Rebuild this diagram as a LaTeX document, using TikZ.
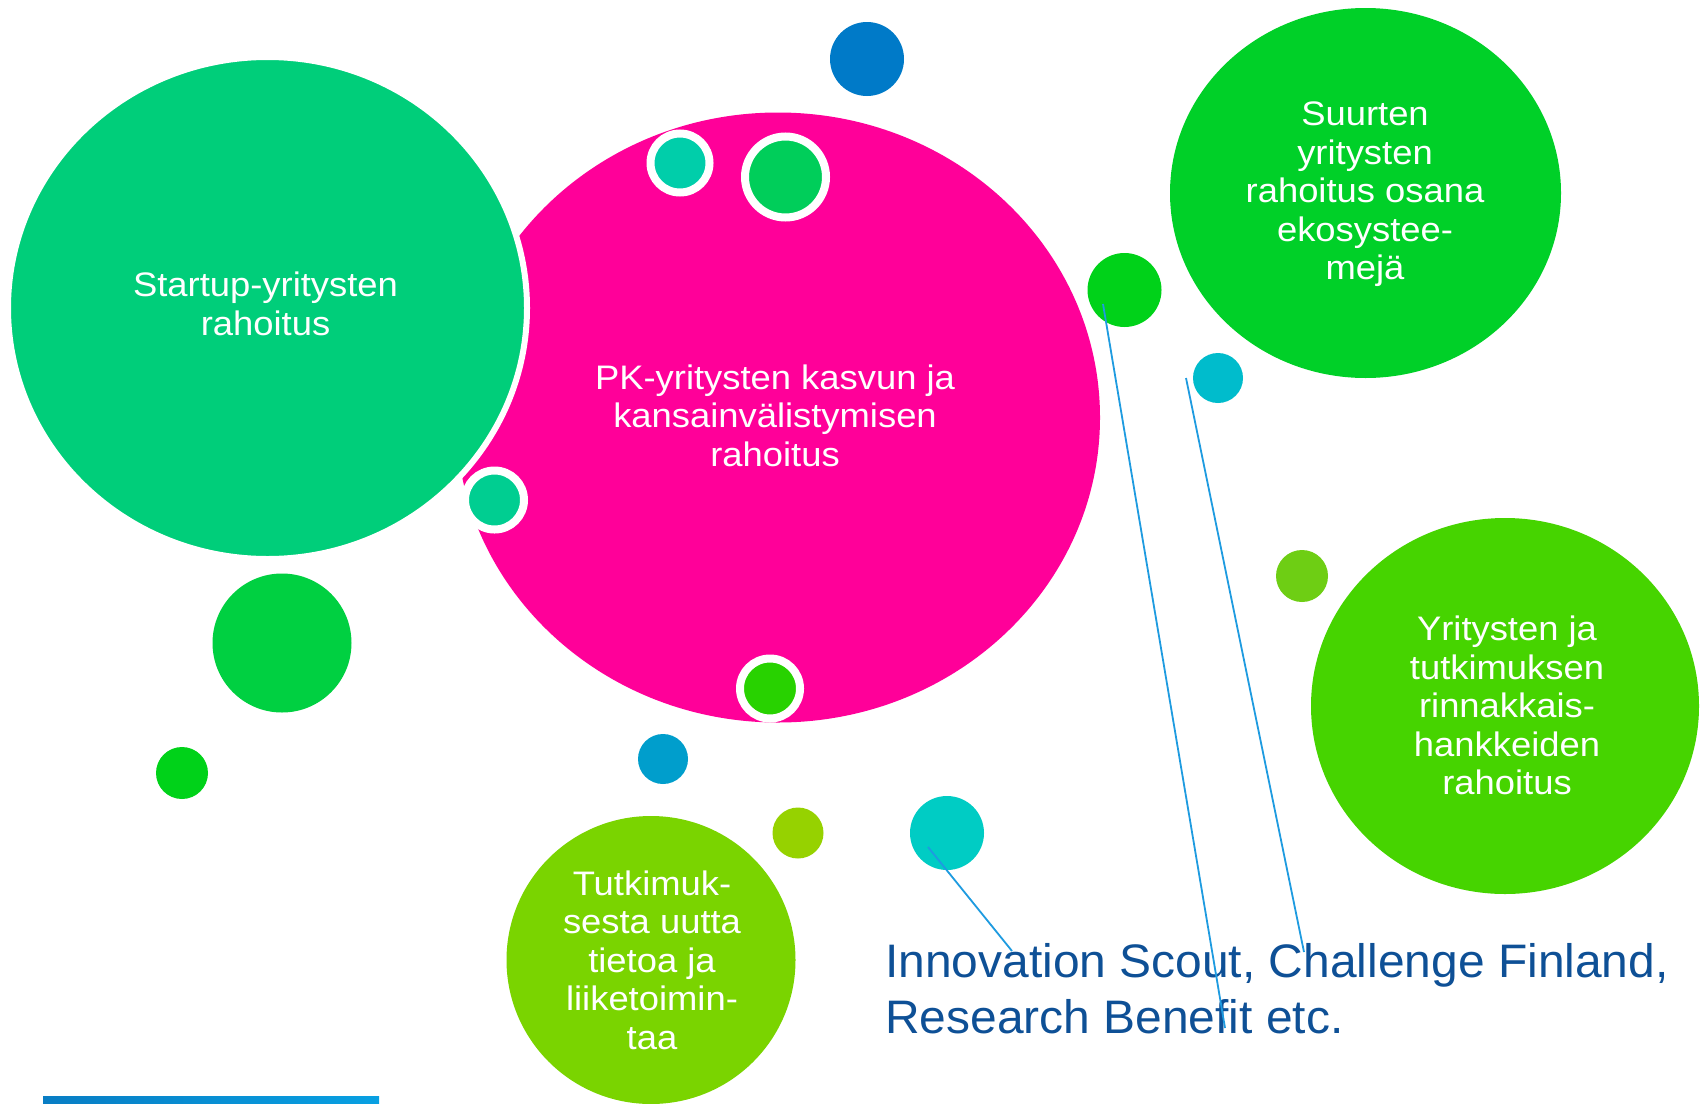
\documentclass[tikz,border=0pt]{standalone}
\usepackage{fontspec}
\setmainfont{Liberation Sans}
\newfontfamily\wfont{Liberation Sans}[FakeStretch=1.07]
\newfontfamily\bfont{Liberation Sans}[FakeStretch=1.02]
\usetikzlibrary{shapes.geometric}
\definecolor{pinkc}{RGB}{255,0,153}
\definecolor{startc}{RGB}{0,206,122}
\definecolor{suurc}{RGB}{0,208,40}
\definecolor{yritc}{RGB}{70,212,0}
\definecolor{tutkc}{RGB}{122,212,0}
\definecolor{llgreen}{RGB}{0,208,65}
\definecolor{sgreen}{RGB}{0,210,25}
\definecolor{bluedot}{RGB}{0,122,200}
\definecolor{bluesmall}{RGB}{0,158,204}
\definecolor{ygreen}{RGB}{150,210,0}
\definecolor{tealb}{RGB}{0,204,196}
\definecolor{cyanc}{RGB}{0,188,204}
\definecolor{ygreen2}{RGB}{110,206,20}
\definecolor{tealring}{RGB}{0,206,170}
\definecolor{greenring}{RGB}{0,206,90}
\definecolor{tealring2}{RGB}{0,206,145}
\definecolor{greenring2}{RGB}{40,210,0}
\definecolor{linec}{RGB}{30,155,224}
\definecolor{bluetext}{RGB}{14,80,150}
\definecolor{barl}{RGB}{8,125,196}
\definecolor{barr}{RGB}{8,160,226}
\begin{document}
\begin{tikzpicture}[x=1pt,y=-1pt,
  bubble/.style={circle, inner sep=0pt, draw=none, minimum size=#1},
  ringbubble/.style={circle, inner sep=0pt, draw=white, line width=8pt, minimum size=#1},
  bigbubble/.style={ellipse, inner sep=0pt, draw=none},
  lbl/.style={text=white, font=\wfont\fontsize{34}{38.5}\selectfont, align=center, inner sep=0pt},
  pointer/.style={draw=linec, line width=1.8pt}]
\useasboundingbox (0,0) rectangle (1702,1103);
\fill[white] (0,0) rectangle (1702,1103);

% big bubbles
\node[bigbubble, fill=pinkc, minimum width=644pt, minimum height=610pt] (pk) at (778,417.5) {};
\node[bigbubble, fill=startc, draw=white, line width=6pt, minimum width=519pt, minimum height=502pt] (startup) at (267.5,308) {};
\node[bigbubble, fill=suurc, minimum width=391pt, minimum height=370pt] (suur) at (1365.5,193) {};
\node[bigbubble, fill=yritc, minimum width=388pt, minimum height=376pt] (yrit) at (1505,706) {};
\node[bigbubble, fill=tutkc, minimum width=289pt, minimum height=288pt] (tutk) at (651,960) {};

% ringed small bubbles
\node[ringbubble=59pt, fill=tealring] (r1) at (680,163) {};
\node[ringbubble=81pt, fill=greenring] (r2) at (785.5,177) {};
\node[ringbubble=59pt, fill=tealring2] (r3) at (494.5,500) {};
\node[ringbubble=60pt, fill=greenring2] (r4) at (770,688.5) {};

% free small bubbles
\node[bubble=139pt, fill=llgreen] (b1) at (282,643) {};
\node[bubble=52pt, fill=sgreen] (b2) at (182,773) {};
\node[bubble=50pt, fill=bluesmall] (b3) at (663,759) {};
\node[bubble=51pt, fill=ygreen] (b4) at (798,833) {};
\node[bubble=74pt, fill=tealb] (b5) at (947,833) {};
\node[bubble=74pt, fill=bluedot] (b6) at (867,59) {};
\node[bubble=74pt, fill=sgreen] (b7) at (1124.5,290) {};
\node[bubble=50pt, fill=cyanc] (b8) at (1218,378) {};
\node[bubble=52pt, fill=ygreen2] (b9) at (1302,576) {};

% labels
\node[lbl] (startup-t) at (265.5,304) {Startup-yritysten\\rahoitus};
\node[lbl] (pk-t) at (775,415.4) {PK-yritysten kasvun ja\\kansainvälistymisen\\rahoitus};
\node[lbl] (suur-t) at (1365,194.5) {Suurten\\yritysten\\rahoitus osana\\ekosystee-\\mejä};
\node[lbl] (yrit-t) at (1507,705.5) {Yritysten ja\\tutkimuksen\\rinnakkais-\\hankkeiden\\rahoitus};
\node[lbl] (tutk-t) at (652,960) {Tutkimuk-\\sesta uutta\\tietoa ja\\liiketoimin-\\taa};

\node[anchor=west, align=left, text=bluetext, font=\bfont\fontsize{47}{56}\selectfont, inner sep=0pt] (prog) at (885,988.2) {Innovation Scout, Challenge Finland,\\Research Benefit etc.};

% pointer lines
\coordinate (e1) at (1012,951);
\coordinate (e2) at (1225,1028);
\coordinate (e3) at (1304,952);
\draw[pointer] (b5.center) ++(-19,14) -- (e1);
\draw[pointer] (b7.center) ++(-21.5,14) -- (e2);
\draw[pointer] (b8.center) ++(-32,0) -- (e3);

% bottom bar
\shade[left color=barl, right color=barr] (43,1096) rectangle (379,1103);
\end{tikzpicture}
\end{document}
